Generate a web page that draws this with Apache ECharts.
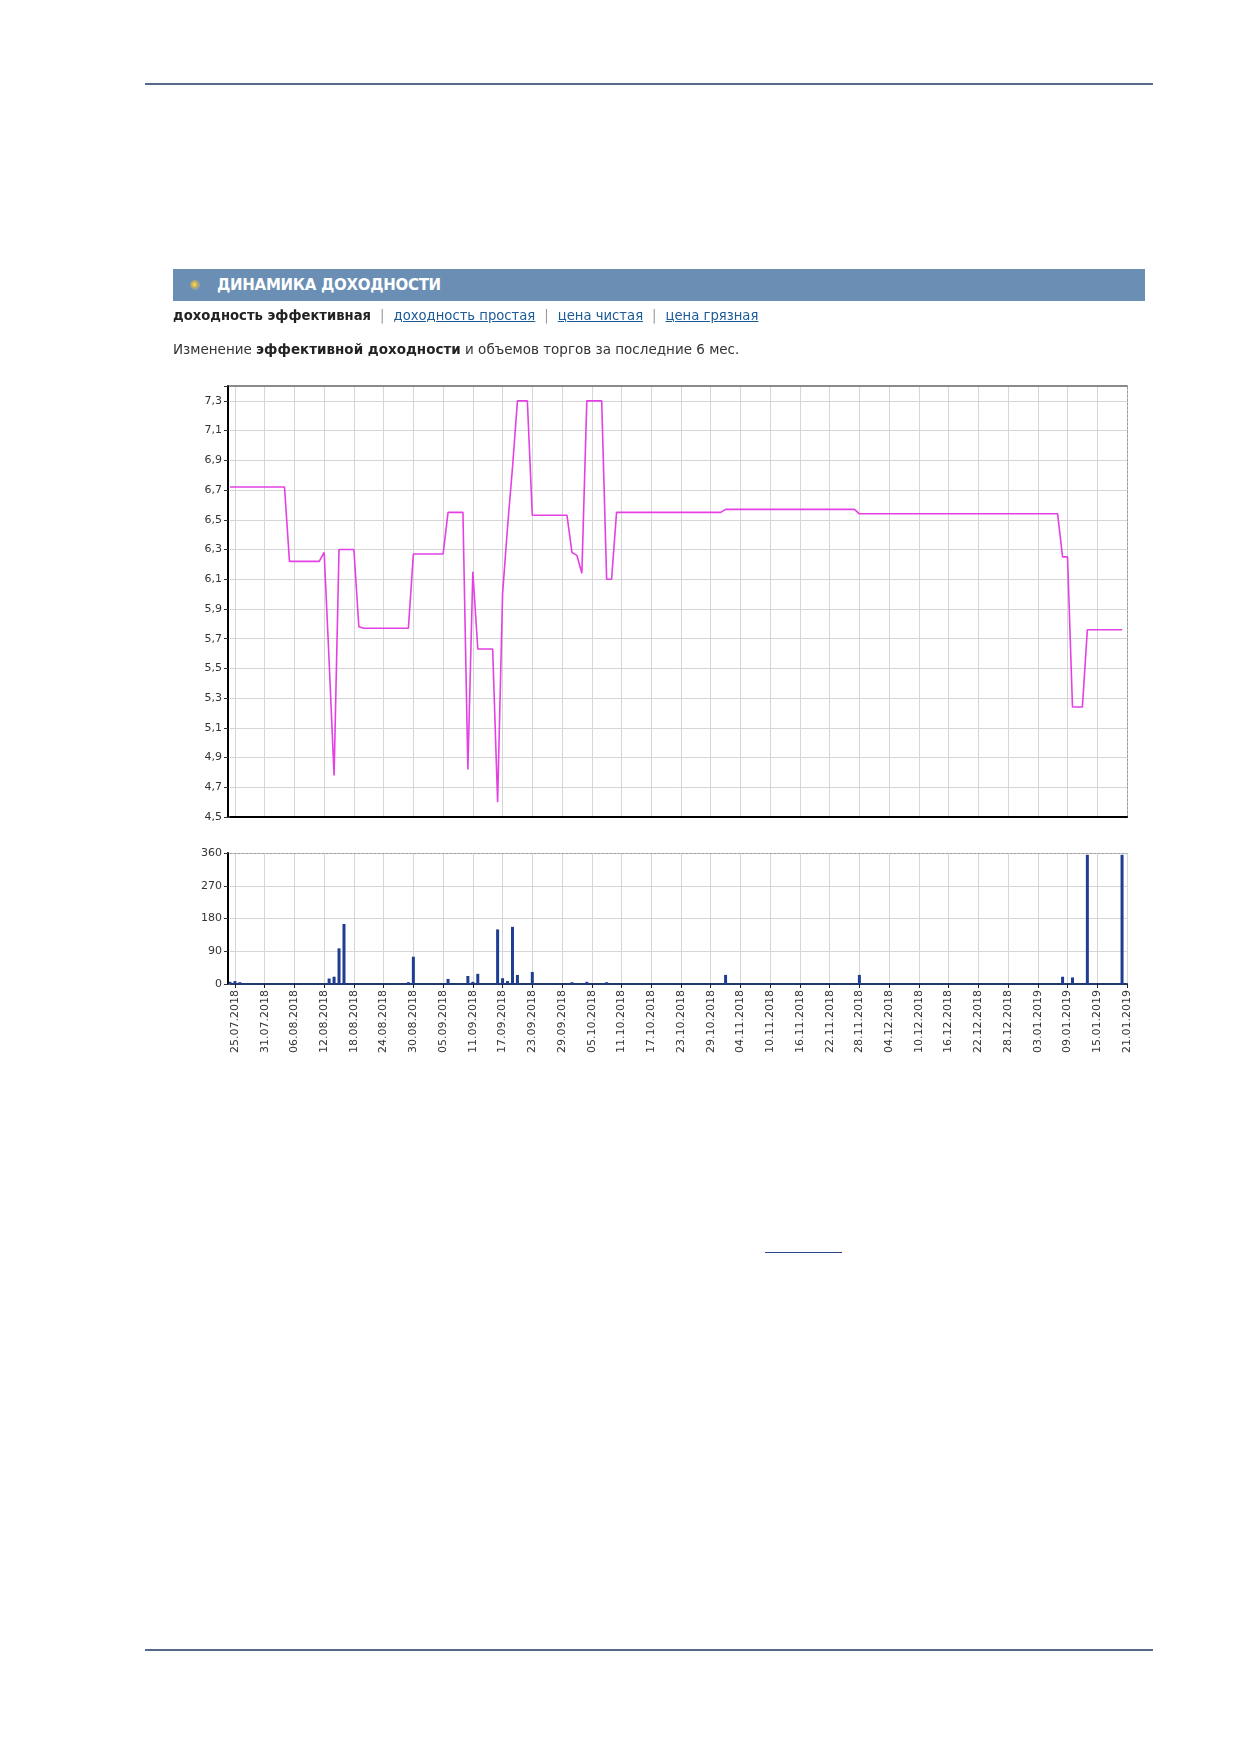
<!DOCTYPE html>
<html><head><meta charset="utf-8">
<script src="https://cdn.jsdelivr.net/npm/echarts@6/dist/echarts.min.js"></script>
<style>
html,body{margin:0;padding:0;background:#fff;}
body{width:1239px;height:1752px;position:relative;overflow:hidden;font-family:"DejaVu Sans",Verdana,sans-serif;}
#chart{position:absolute;left:0;top:0;width:1239px;height:1752px;}
.rule{position:absolute;left:145px;width:1008px;height:2px;background:#56698b;}
#hdr{position:absolute;left:173px;top:269px;width:972px;height:32px;background:#6b8fb4;}
#hdr .dot{position:absolute;left:17px;top:11px;width:10px;height:10px;border-radius:50%;background:radial-gradient(circle at 45% 45%,#f4e07a 0,#c9b24a 35%,#8d9aa8 60%,#b5c2cf 100%);}
#hdr .t{position:absolute;left:44px;top:7px;color:#fff;font-weight:bold;font-size:15px;line-height:18px;letter-spacing:-0.3px;white-space:nowrap;}
#links{position:absolute;left:173px;top:307px;font-size:13.2px;line-height:18px;color:#222;white-space:nowrap;}
#links b{font-weight:bold;}
#links .sep{color:#999;margin:0 9px;}
#links a{color:#1d5a98;text-decoration:underline;}
#desc{position:absolute;left:173px;top:340px;font-size:13.5px;line-height:18px;color:#333;white-space:nowrap;}
#desc b{color:#222;}
#ul{position:absolute;left:765px;top:1252px;width:77px;height:1px;background:#2b4a8a;}
</style></head>
<body>
<div id="chart"></div>
<div class="rule" style="top:83px"></div>
<div class="rule" style="top:1649px"></div>
<div id="hdr"><div class="dot"></div><div class="t">ДИНАМИКА ДОХОДНОСТИ</div></div>
<div id="links"><b>доходность эффективная</b><span class="sep">|</span><a>доходность простая</a><span class="sep">|</span><a>цена чистая</a><span class="sep">|</span><a>цена грязная</a></div>
<div id="desc">Изменение <b>эффективной доходности</b> и объемов торгов за последние 6 мес.</div>
<div id="ul"></div>
<script>
// Axis range (one padding day before the first labelled date)
const startDate = '24.07.2018';
const dayCount = 182; // 24.07.2018 .. 21.01.2019

// Effective yield, %
const yieldDates = ['24.07.2018','04.08.2018','05.08.2018','11.08.2018','12.08.2018','13.08.2018','14.08.2018','15.08.2018','18.08.2018','19.08.2018','20.08.2018','29.08.2018','30.08.2018','05.09.2018','06.09.2018','09.09.2018','10.09.2018','11.09.2018','12.09.2018','15.09.2018','16.09.2018','17.09.2018','18.09.2018','19.09.2018','20.09.2018','22.09.2018','23.09.2018','30.09.2018','01.10.2018','02.10.2018','03.10.2018','04.10.2018','07.10.2018','08.10.2018','09.10.2018','10.10.2018','31.10.2018','01.11.2018','27.11.2018','28.11.2018','07.01.2019','08.01.2019','09.01.2019','10.01.2019','12.01.2019','13.01.2019','20.01.2019'];
const yieldValues = [6.72,6.72,6.22,6.22,6.28,5.55,4.78,6.30,6.30,5.78,5.77,5.77,6.27,6.27,6.55,6.55,4.82,6.15,5.63,5.63,4.60,6.00,6.45,6.85,7.30,7.30,6.53,6.53,6.28,6.26,6.14,7.30,7.30,6.10,6.10,6.55,6.55,6.57,6.57,6.54,6.54,6.25,6.25,5.24,5.24,5.76,5.76];

// Trading volume
const volumeDates = ['24.07.2018','25.07.2018','26.07.2018','13.08.2018','14.08.2018','15.08.2018','16.08.2018','29.08.2018','30.08.2018','06.09.2018','10.09.2018','11.09.2018','12.09.2018','16.09.2018','17.09.2018','18.09.2018','19.09.2018','20.09.2018','23.09.2018','01.10.2018','04.10.2018','08.10.2018','01.11.2018','28.11.2018','08.01.2019','10.01.2019','13.01.2019','20.01.2019'];
const volumeValues = [6,8,5,15,20,98,165,5,75,14,22,6,28,150,16,8,157,25,33,5,6,5,25,25,20,18,355,355];

// Y axis settings
const yieldMin = 4.5, yieldMax = 7.4, yieldStep = 0.2;
const volMin = 0, volMax = 360, volStep = 90;

function pad(n){return (n<10?'0':'')+n;}
const p = startDate.split('.');
const d0 = new Date(Date.UTC(+p[2], +p[1]-1, +p[0]));
const categories = [];
for (let i = 0; i < dayCount; i++) {
  const d = new Date(d0.getTime() + i*86400000);
  categories.push(pad(d.getUTCDate())+'.'+pad(d.getUTCMonth()+1)+'.'+d.getUTCFullYear());
}
const every6 = (idx) => idx >= 1 && (idx - 1) % 6 === 0;

const lineData = yieldDates.map((d,i)=>[d, yieldValues[i]]);
const barData = volumeDates.map((d,i)=>[d, volumeValues[i]]);

const gridLine = {color:'#d6d6d6', width:1};
const chart = echarts.init(document.getElementById('chart'), null, {renderer:'canvas'});
chart.setOption({
  animation:false,
  grid:[
    {left:230, right:112, top:386, height:431},
    {left:230, right:112, top:853, height:131}
  ],
  xAxis:[
    {type:'category', gridIndex:0, data:categories, boundaryGap:false,
     axisLine:{lineStyle:{color:'#000', width:2}}, axisTick:{show:false}, axisLabel:{show:false},
     splitLine:{show:true, interval:every6, lineStyle:gridLine}},
    {type:'category', gridIndex:0, data:categories, boundaryGap:false, position:'top',
     axisLine:{lineStyle:{color:'#8a8a8a', width:2}}, axisTick:{show:false}, axisLabel:{show:false}, splitLine:{show:false}},
    {type:'category', gridIndex:1, data:categories, boundaryGap:false,
     axisLine:{lineStyle:{color:'#23386a', width:2}},
     axisTick:{show:true, interval:every6, length:4, lineStyle:{color:'#222'}},
     axisLabel:{interval:every6, rotate:90, fontSize:11, color:'#333', margin:6, fontFamily:'DejaVu Sans'},
     splitLine:{show:true, interval:every6, lineStyle:gridLine}},
    {type:'category', gridIndex:1, data:categories, boundaryGap:false, position:'top',
     axisLine:{lineStyle:{color:'#a0a0a0', width:1, type:[2,2]}}, axisTick:{show:false}, axisLabel:{show:false}, splitLine:{show:false}}
  ],
  yAxis:[
    {type:'value', gridIndex:0, min:yieldMin, max:yieldMax, interval:yieldStep, offset:2,
     axisLine:{show:true, lineStyle:{color:'#000', width:2}},
     axisTick:{show:true, length:4, lineStyle:{color:'#333'}},
     axisLabel:{fontSize:11, color:'#333', margin:6, fontFamily:'DejaVu Sans',
       formatter:(v)=> v > 7.35 ? '' : v.toFixed(1).replace('.', ',')},
     splitLine:{show:true, lineStyle:gridLine}},
    {type:'value', gridIndex:0, min:yieldMin, max:yieldMax, position:'right',
     axisLine:{show:true, lineStyle:{color:'#9a9a9a', width:1, type:[2,2]}}, axisTick:{show:false}, axisLabel:{show:false}, splitLine:{show:false}},
    {type:'value', gridIndex:1, min:volMin, max:volMax, interval:volStep, offset:2,
     axisLine:{show:true, lineStyle:{color:'#000', width:2}},
     axisTick:{show:true, length:4, lineStyle:{color:'#333'}},
     axisLabel:{fontSize:11, color:'#333', margin:6, fontFamily:'DejaVu Sans'},
     splitLine:{show:true, lineStyle:gridLine}}
  ],
  series:[
    {type:'line', xAxisIndex:0, yAxisIndex:0, data:lineData, showSymbol:false, symbol:'none',
     lineStyle:{color:'#e440e4', width:1.6}, connectNulls:true, z:5},
    {type:'bar', xAxisIndex:2, yAxisIndex:2, data:barData, barWidth:3,
     itemStyle:{color:'#1f3d91'}, z:5}
  ]
});
</script>
</body></html>
